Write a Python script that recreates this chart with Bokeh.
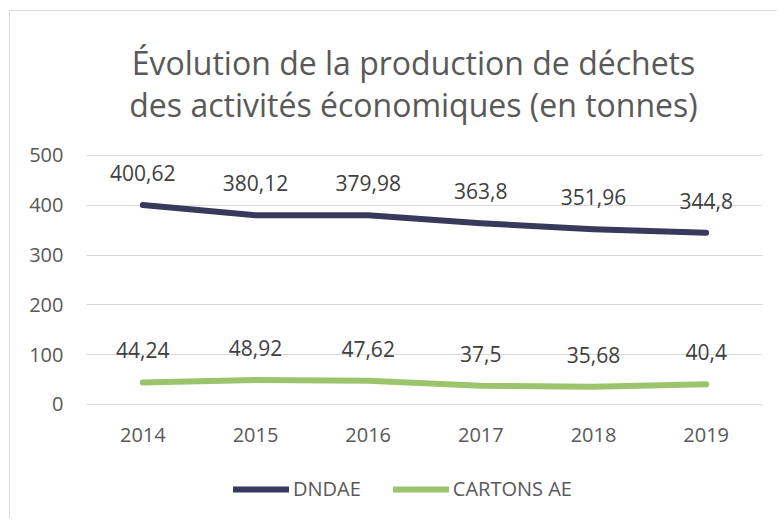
from bokeh.plotting import figure
from bokeh.models import (ColumnDataSource, LabelSet, Legend, LegendItem, Label,
                          Range1d, FactorRange, FixedTicker)
from bokeh.embed import file_html
from bokeh.resources import INLINE
from bokeh.core.properties import value

# ---- data ----
years = ["2014", "2015", "2016", "2017", "2018", "2019"]
dndae = [400.62, 380.12, 379.98, 363.8, 351.96, 344.8]
cartons = [44.24, 48.92, 47.62, 37.5, 35.68, 40.4]
y_ticks = [0, 100, 200, 300, 400, 500]
series_names = ["DNDAE", "CARTONS AE"]
title_lines = ["Évolution de la production de déchets",
               "des activités économiques (en tonnes)"]

FONT = "Open Sans"
DARK = "#39395B"
GREEN = "#9BC46C"


def fr(v):
    return f"{v:g}".replace(".", ",")


W, H = 768, 508
# frame spans the whole chart area vertically; y range extends beyond 0..500
# so that title and legend can sit inside the frame
p = figure(x_range=FactorRange(*years, range_padding=0),
           y_range=Range1d(-217, 771),
           width=W, height=H, output_backend="svg", toolbar_location=None,
           min_border_left=76, min_border_right=16,
           min_border_top=9, min_border_bottom=7)
p.styles = {"margin-left": "9px", "margin-top": "10px",
            "border-left": "1px solid #D9D9D9", "border-top": "1px solid #D9D9D9"}
p.background_fill_color = "white"
p.border_fill_color = "white"
p.outline_line_color = None

# axes
for ax in (p.xaxis, p.yaxis):
    ax.axis_line_color = None
    ax.major_tick_line_color = None
    ax.minor_tick_line_color = None
    ax.major_tick_out = 0
    ax.major_tick_in = 0
    ax.major_label_text_font = FONT
    ax.major_label_text_font_size = "20px"
    ax.major_label_text_color = "#595959"
p.yaxis.ticker = FixedTicker(ticks=y_ticks)
p.yaxis.major_label_standoff = 23
p.xaxis.fixed_location = 0
p.xaxis.major_label_standoff = 24

p.xgrid.visible = False
p.ygrid.grid_line_color = "#D9D9D9"
p.ygrid.grid_line_width = 1

# series
r1 = p.line(years, dndae, line_color=DARK, line_width=6,
            line_cap="round", line_join="round")
r2 = p.line(years, cartons, line_color=GREEN, line_width=6,
            line_cap="round", line_join="round")

for vals in (dndae, cartons):
    src = ColumnDataSource(dict(x=years, y=vals, t=[fr(v) for v in vals]))
    p.add_layout(LabelSet(x="x", y="y", text="t", source=src, y_offset=32,
                          text_align="center", text_baseline="middle",
                          text_font=value(FONT), text_font_size="21px",
                          text_color="#404040"))

# title (two lines), in screen units from the frame's bottom-left
for i, line in enumerate(title_lines):
    p.add_layout(Label(x=327, y=450 - 42 * i, x_units="screen", y_units="screen",
                       text=line, text_align="center", text_baseline="alphabetic",
                       text_font=FONT, text_font_size="32px",
                       text_color="#595959"))

legend = Legend(items=[LegendItem(label=series_names[0], renderers=[r1]),
                       LegendItem(label=series_names[1], renderers=[r2])],
                orientation="horizontal", location=(147, 10),
                glyph_width=56, glyph_height=20, label_standoff=4, spacing=32,
                padding=0, margin=0, border_line_color=None,
                background_fill_alpha=0,
                label_text_font=FONT, label_text_font_size="20px",
                label_text_color="#595959")
p.add_layout(legend, "center")

open("out.html", "w").write(file_html(p, INLINE))
